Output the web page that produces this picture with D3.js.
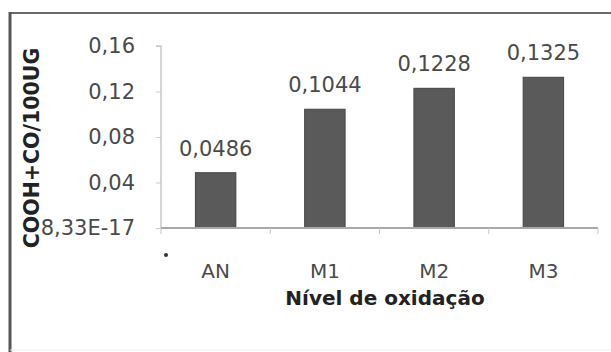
<!DOCTYPE html>
<html><head><meta charset="utf-8">
<script src="https://cdn.jsdelivr.net/npm/d3@7"></script>
<style>body{margin:0;background:#fff;} svg{display:block;}</style>
</head><body>
<script>
const categories = ["AN", "M1", "M2", "M3"];
const values = [0.0486, 0.1044, 0.1228, 0.1325];
const valueLabels = ["0,0486", "0,1044", "0,1228", "0,1325"];
const yTicks = [0, 0.04, 0.08, 0.12, 0.16];
const yTickLabels = ["8,33E-17", "0,04", "0,08", "0,12", "0,16"];
const yTitle = "COOH+CO/100UG";
const xTitle = "Nível de oxidação";

const W = 611, H = 352;
const svg = d3.select("body").append("svg").attr("width", W).attr("height", H);
const font = "DejaVu Sans";
const txt = "#4a4a4a";

// frame
svg.append("line").attr("x1", 9).attr("x2", W).attr("y1", 13).attr("y2", 13).attr("stroke", "#6b6b6b").attr("stroke-width", 2);
svg.append("line").attr("x1", 10).attr("x2", 10).attr("y1", 12).attr("y2", H).attr("stroke", "#555").attr("stroke-width", 3);
svg.append("line").attr("x1", 10).attr("x2", W).attr("y1", 350).attr("y2", 350).attr("stroke", "#eee").attr("stroke-width", 1);

const x0 = 161, x1 = 598, yTop = 46, yBot = 228;
const x = d3.scaleBand().domain(categories).range([x0, x1]).paddingInner(0.63).paddingOuter(0.315);
const xb = d3.scaleBand().domain(categories).range([x0, x1]);
const y = d3.scaleLinear().domain([0, 0.16]).range([yBot, yTop]);

// y axis
const yAxis = d3.axisLeft(y).tickValues(yTicks).tickSize(5).tickFormat((d, i) => yTickLabels[i]);
const gy = svg.append("g").attr("transform", `translate(${x0},0)`).call(yAxis);
gy.select(".domain").attr("stroke", "#c8c8c8").attr("stroke-width", 1.5).attr("d", `M-5,${yTop}H0V${yBot}`);
gy.selectAll(".tick line").attr("stroke", "#c8c8c8");
gy.selectAll(".tick text").attr("x", -26).attr("fill", txt).style("font-family", font).style("font-size", "21px");

// bars
svg.append("g").selectAll("rect").data(values).join("rect")
  .attr("x", (d, i) => x(categories[i]))
  .attr("y", d => y(d))
  .attr("width", x.bandwidth())
  .attr("height", d => yBot - y(d))
  .attr("fill", "#5a5a5a").attr("stroke", "#444").attr("stroke-width", 1);

// x axis
const xAxis = d3.axisBottom(xb).tickSize(0).tickPadding(0).tickFormat(d => d);
const gx = svg.append("g").attr("transform", `translate(0,${yBot})`).call(xAxis);
gx.select(".domain").attr("stroke", "#a8a8a8").attr("stroke-width", 2).attr("d", `M${x0},0H${x1}`);
gx.selectAll(".tick text").attr("dy", 0).attr("y", 50).attr("fill", txt).style("font-family", font).style("font-size", "20px");
// boundary tick marks
gx.append("g").selectAll("line").data(categories.concat(["_end"])).join("line")
  .attr("x1", (d, i) => x0 + i * xb.step()).attr("x2", (d, i) => x0 + i * xb.step())
  .attr("y1", 0).attr("y2", 6).attr("stroke", "#c8c8c8");

// value labels
svg.append("g").selectAll("text").data(values).join("text")
  .attr("x", (d, i) => xb(categories[i]) + xb.bandwidth() / 2)
  .attr("y", d => y(d) - 17)
  .attr("text-anchor", "middle").attr("fill", txt)
  .style("font-family", font).style("font-size", "21px")
  .text((d, i) => valueLabels[i]);

// small dot artifact
svg.append("circle").attr("cx", 166).attr("cy", 255).attr("r", 2).attr("fill", "#333");

// titles
svg.append("text").attr("transform", `translate(39,${148}) rotate(-90)`)
  .attr("text-anchor", "middle").attr("fill", "#222").style("font-family", font)
  .style("font-size", "20.5px").style("font-weight", "bold").text(yTitle);
svg.append("text").attr("x", 385).attr("y", 305)
  .attr("text-anchor", "middle").attr("fill", "#222").style("font-family", font)
  .style("font-size", "20px").style("font-weight", "bold").text(xTitle);
</script>
</body></html>
